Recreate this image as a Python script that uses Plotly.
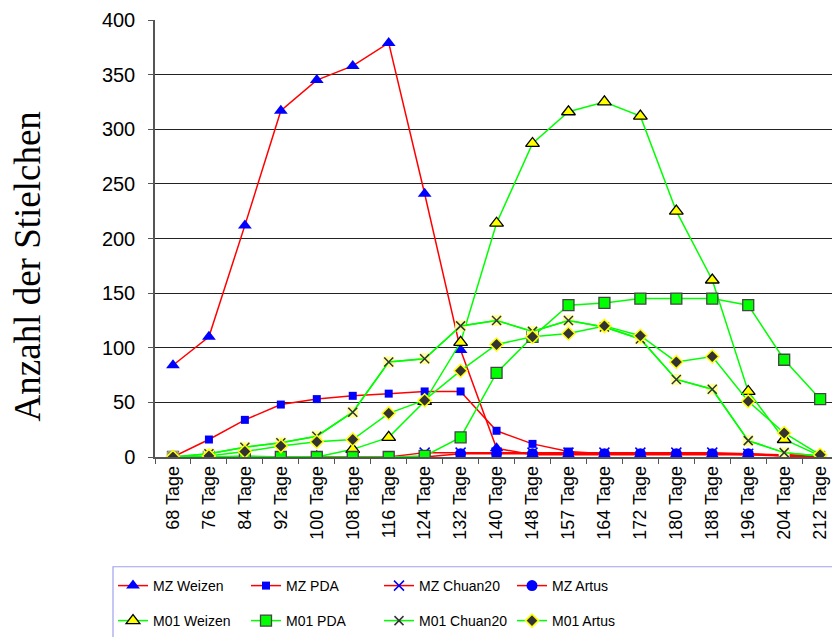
import plotly.graph_objects as go

categories = ["68 Tage", "76 Tage", "84 Tage", "92 Tage", "100 Tage", "108 Tage", "116 Tage",
              "124 Tage", "132 Tage", "140 Tage", "148 Tage", "157 Tage", "164 Tage", "172 Tage",
              "180 Tage", "188 Tage", "196 Tage", "204 Tage", "212 Tage"]

mz_weizen = [84, 110, 212, 317, 345, 358, 379, 241, 98, 8, 2, 2, 2, 2, 2, 2, 2, 1, 0]
mz_pda = [0, 16, 34, 48, 53, 56, 58, 60, 60, 24, 12, 5, 3, 3, 3, 3, 2, 2, 1]
mz_chuan20 = [0, 0, 0, 0, 0, 0, 0, 4, 4, 4, 4, 4, 4, 4, 4, 4, 3, 2, 1]
mz_artus = [0, 0, 0, 0, 0, 0, 0, 0, 3, 3, 3, 3, 3, 3, 3, 3, 3, 1, 0]

m01_weizen = [0, 0, 1, 0, 0, 7, 18, 51, 105, 214, 287, 316, 325, 312, 225, 162, 60, 16, 1]
m01_pda = [0, 0, 0, 0, 0, 0, 0, 1, 18, 77, 110, 139, 141, 145, 145, 145, 139, 89, 53]
m01_chuan20 = [0, 3, 9, 13, 19, 41, 87, 90, 120, 125, 115, 125, 119, 108, 71, 62, 15, 4, 1]
m01_artus = [0, 1, 5, 10, 14, 16, 40, 52, 79, 103, 110, 113, 120, 111, 87, 92, 51, 22, 2]

y_ticks = [0, 50, 100, 150, 200, 250, 300, 350, 400]

RED = "#ff0000"
GREEN = "#00ff00"
BLUE = "#0000ff"

fig = go.Figure()

def add(name, y, line_color, marker, legend="legend", showlegend=True, group=None, mode="lines+markers"):
    fig.add_trace(go.Scatter(
        x=categories, y=y, name=name, mode=mode,
        line=dict(color=line_color, width=1.5),
        marker=marker, legend=legend, showlegend=showlegend,
        legendgroup=group or name,
    ))

add("MZ Weizen", mz_weizen, RED, dict(symbol="triangle-up", size=12, color=BLUE, line=dict(width=0)))
add("MZ PDA", mz_pda, RED, dict(symbol="square", size=8, color=BLUE, line=dict(width=0)))
add("MZ Chuan20", mz_chuan20, RED, dict(symbol="x-thin", size=10, color=BLUE, line=dict(width=1.5, color=BLUE)))
add("MZ Artus", mz_artus, RED, dict(symbol="circle", size=11, color=BLUE, line=dict(width=0)))

add("M01 Weizen", m01_weizen, GREEN, dict(symbol="triangle-up", size=12, color="#ffff00", line=dict(width=1.3, color="#000000")), legend="legend2")
add("M01 PDA", m01_pda, GREEN, dict(symbol="square", size=11, color=GREEN, line=dict(width=1.3, color="#444444")), legend="legend2")
# background squares for M01 Chuan20 (no legend), then line + x markers
add("M01 Chuan20 bg", m01_chuan20, GREEN, dict(symbol="square", size=11, color="#ffff99", line=dict(width=0)),
    legend="legend2", showlegend=False, group="c20")
add("M01 Chuan20", m01_chuan20, GREEN, dict(symbol="x-thin", size=9, color="#333333", line=dict(width=1.5, color="#333333")),
    legend="legend2", group="c20")
add("M01 Artus", m01_artus, GREEN, dict(symbol="diamond", size=10, color="#333333", line=dict(width=1.5, color="#ffff00")), legend="legend2")

PLOT_L, PLOT_T, PLOT_B = 155, 20, 458
W, H = 832, 637
plot_h = PLOT_B - PLOT_T
plot_w = W - PLOT_L

def py(ypx):
    return (PLOT_B - ypx) / plot_h

def px(xpx):
    return (xpx - PLOT_L) / plot_w

legend_common = dict(
    orientation="h", xanchor="left", yanchor="middle",
    font=dict(family="Liberation Sans, Arial, sans-serif", size=14, color="#000000"),
    bgcolor="rgba(0,0,0,0)", borderwidth=0, entrywidth=88, itemclick=False,
)

fig.update_layout(
    width=W, height=H,
    margin=dict(l=PLOT_L, r=0, t=PLOT_T, b=H - PLOT_B, pad=0),
    paper_bgcolor="white", plot_bgcolor="white",
    font=dict(family="Liberation Sans, Arial, sans-serif", color="#000000"),
    legend=dict(x=px(113), y=py(586), **legend_common),
    legend2=dict(x=px(113), y=py(622), **legend_common),
    xaxis=dict(
        type="category", range=[-0.5, 18.33],
        tickangle=-90, tickfont=dict(size=18, family="Liberation Sans, Arial, sans-serif"),
        showgrid=False, showline=True, linecolor="#555555", linewidth=1.5,
        ticks="outside", tickson="boundaries", ticklen=5, tickcolor="#555555",
        zeroline=False,
    ),
    yaxis=dict(
        range=[0, 400], tickvals=y_ticks,
        tickfont=dict(size=20, family="Liberation Sans, Arial, sans-serif"),
        showgrid=True, gridcolor="#222222", gridwidth=1,
        showline=True, linecolor="#555555", linewidth=1.5,
        ticks="outside", ticklen=5, tickcolor="#555555", ticklabelstandoff=9,
        zeroline=False,
    ),
    showlegend=True,
    annotations=[dict(
        text="Anzahl der Stielchen", textangle=-90,
        xref="paper", yref="paper", x=px(27), y=py(267),
        xanchor="center", yanchor="middle", showarrow=False,
        font=dict(family="Liberation Serif, Times New Roman, serif", size=37, color="#000000"),
    )],
    shapes=[dict(
        type="rect", xref="paper", yref="paper",
        x0=px(113), x1=px(W + 5), y0=py(568), y1=py(H + 5),
        line=dict(color="#a0a0f0", width=1.2), fillcolor="rgba(0,0,0,0)",
    )],
)

fig.write_html("out.html")
